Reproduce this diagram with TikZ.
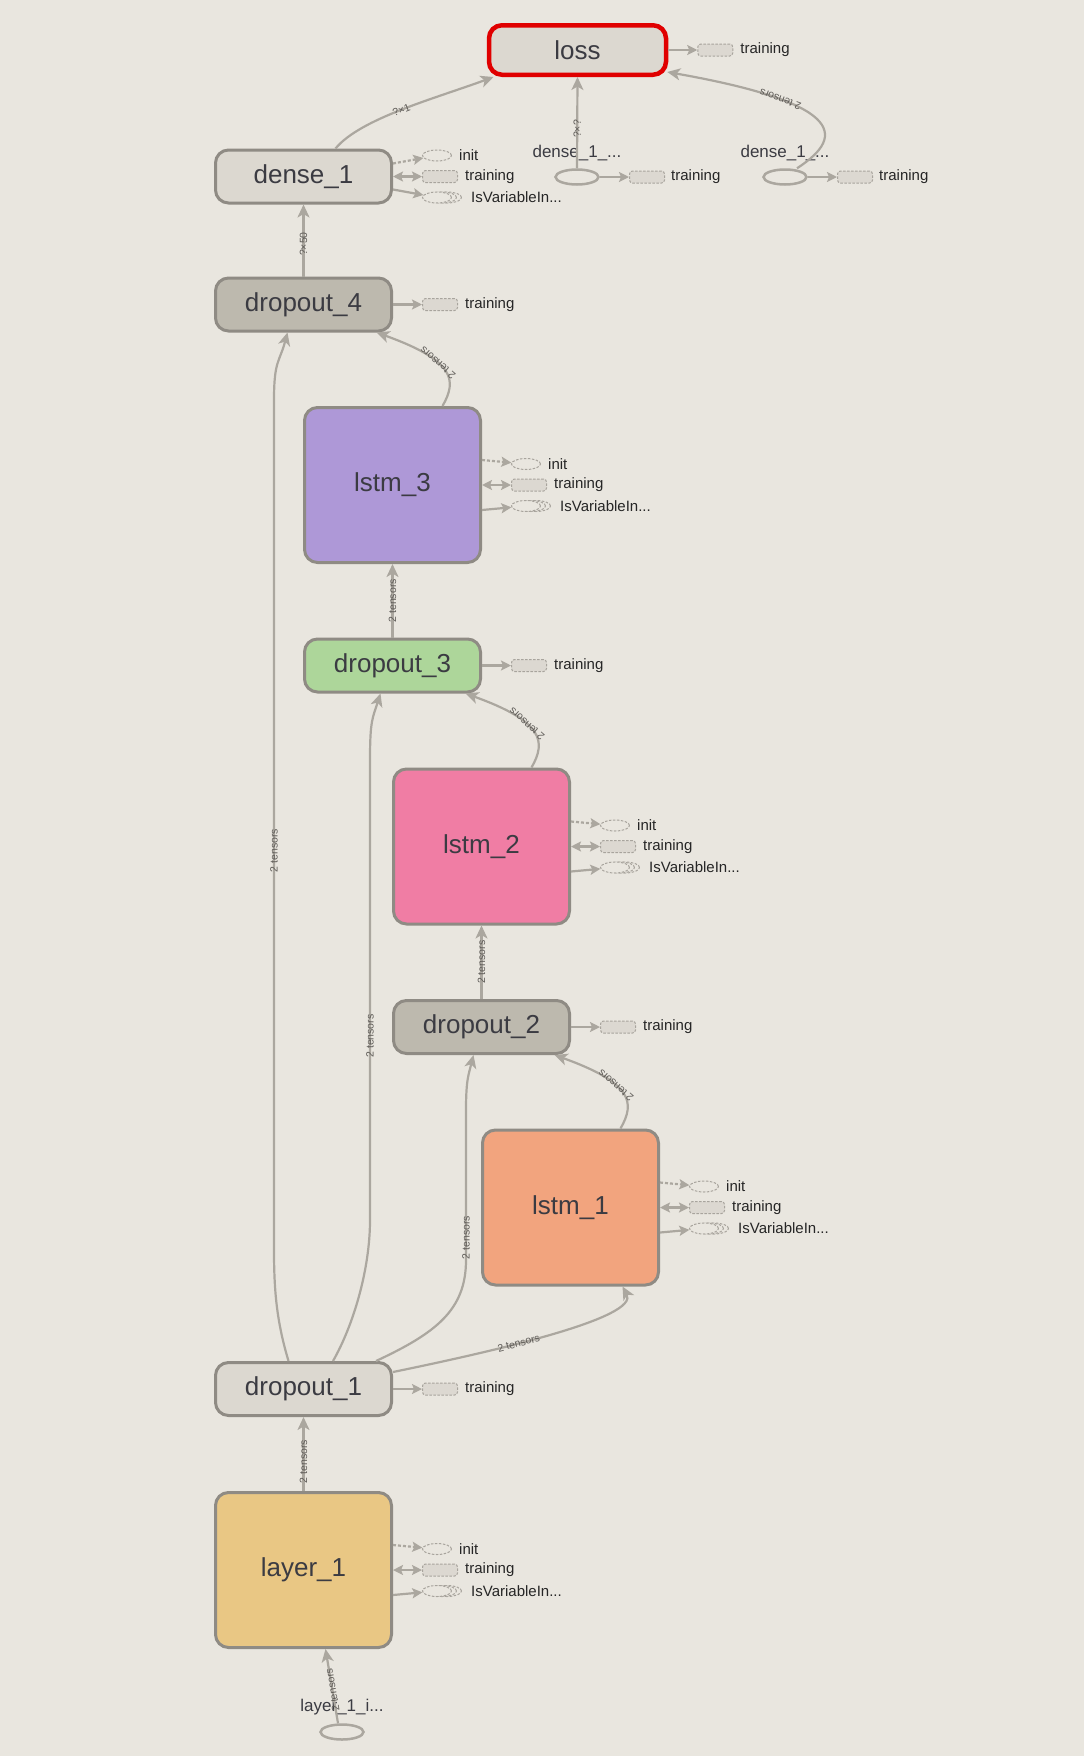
\documentclass[tikz,border=0pt]{standalone}
\usepackage{fontspec}
\setmainfont{Liberation Sans}
\usetikzlibrary{arrows.meta,shapes.geometric}

\definecolor{bgc}{HTML}{E9E6DF}
\definecolor{opc}{HTML}{DCD8D0}
\definecolor{dropc}{HTML}{BDB9AE}
\definecolor{bordc}{HTML}{8F8B84}
\definecolor{edgec}{HTML}{ABA79F}
\definecolor{dashc}{HTML}{A8A49D}
\definecolor{auxc}{HTML}{DCD8D1}
\definecolor{txtc}{HTML}{3B3B42}
\definecolor{labc}{HTML}{5E5B57}
\definecolor{lossred}{HTML}{E00000}
\definecolor{lstmA}{HTML}{F2A47E}
\definecolor{lstmB}{HTML}{F07DA4}
\definecolor{lstmC}{HTML}{AE98D7}
\definecolor{dropC}{HTML}{ADD69A}
\definecolor{layc}{HTML}{E9C784}

\begin{document}
\begin{tikzpicture}[x=1pt,y=-1pt,
  op/.style={draw=bordc, line width=3pt, rounded corners=13pt, minimum width=176pt, minimum height=53pt,
    font=\fontsize{26}{30}\selectfont, text=txtc, inner sep=0pt},
  bigop/.style={op, minimum height=155pt},
  inp/.style={ellipse, draw=edgec, line width=2.5pt, minimum width=43pt, minimum height=15pt, inner sep=0pt},
  inplab/.style={font=\fontsize{17}{18}\selectfont, text=txtc, inner sep=0pt},
  flow/.style={draw=edgec, line width=2.2pt, -{Stealth[length=13pt,width=12pt,inset=3.5pt]}},
  flowlab/.style={font=\fontsize{10.5}{11}\selectfont, text=labc, sloped, allow upside down, inner sep=1pt},
  auxbox/.style={draw=dashc, dash pattern=on 2.5pt off 1.5pt, fill=auxc, rounded corners=3pt, line width=1pt,
    minimum width=35pt, minimum height=12pt, inner sep=0pt},
  auxell/.style={ellipse, draw=dashc, dash pattern=on 2.5pt off 1.5pt, line width=1pt, minimum width=29pt,
    minimum height=11pt, inner sep=0pt},
  auxlab/.style={font=\fontsize{15}{16}\selectfont, text=black!85, anchor=west, inner sep=1pt},
  auxarr/.style={draw=edgec, line width=2.2pt, -{Stealth[length=10pt,width=10pt,inset=2pt]}},
  auxboth/.style={auxarr, {Stealth[length=10pt,width=10pt,inset=2pt]}-{Stealth[length=10pt,width=10pt,inset=2pt]}}
]
\fill[bgc] (0,0) rectangle (1084,1756);
\useasboundingbox (0,0) rectangle (1084,1756);

% main nodes
\node[op, fill=opc, draw=lossred, line width=4.5pt, minimum width=177pt, minimum height=49.5pt] (loss) at (577.5,50) {loss};
\node[op, fill=opc] (dense1) at (303.5,176.5) {dense\_1};
\node[op, fill=dropc] (dropout4) at (303.5,304.5) {dropout\_4};
\node[bigop, fill=lstmC] (lstm3) at (392.5,485) {lstm\_3};
\node[op, fill=dropC] (dropout3) at (392.5,665.5) {dropout\_3};
\node[bigop, fill=lstmB] (lstm2) at (481.5,846.5) {lstm\_2};
\node[op, fill=dropc] (dropout2) at (481.5,1027) {dropout\_2};
\node[bigop, fill=lstmA] (lstm1) at (570.5,1207.5) {lstm\_1};
\node[op, fill=opc] (dropout1) at (303.5,1389) {dropout\_1};
\node[bigop, fill=layc] (layer1) at (303.5,1570) {layer\_1};

% inputs
\node[inp] (d1a) at (577,177) {};
\node[inplab] (d1alab) at (577,153) {dense\_1\_...};
\node[inp] (d1b) at (785,177) {};
\node[inplab] (d1blab) at (785,153) {dense\_1\_...};
\node[inp] (li) at (342,1732) {};
\node[inplab] (lilab) at (342,1707) {layer\_1\_i...};

% training / init / IsVariableIn... side nodes
\foreach \b in {loss,dropout4,dropout3,dropout2,dropout1}{
  \node[auxbox, anchor=west] (\b-t) at ([xshift=29pt]\b.east) {};
  \node[auxlab] (\b-tl) at ([xshift=71pt]\b.east) {training};
  \draw[auxarr] (\b.east) -- (\b-t);
}
\foreach \b/\s in {dense1/13,lstm3/25,lstm2/25,lstm1/25,layer1/25}{
  \node[auxell, anchor=west] (\b-i) at ([shift={(29,-21)}]\b.east) {};
  \node[auxlab] (\b-il) at ([shift={(65,-21)}]\b.east) {init};
  \node[auxbox, anchor=west] (\b-t) at ([xshift=29pt]\b.east) {};
  \node[auxlab] (\b-tl) at ([xshift=71pt]\b.east) {training};
  \node[auxell, anchor=west, fill=bgc] (\b-v3) at ([shift={(39,21)}]\b.east) {};
  \node[auxell, anchor=west, fill=bgc] (\b-v2) at ([shift={(34,21)}]\b.east) {};
  \node[auxell, anchor=west, fill=bgc] (\b-v) at ([shift={(29,21)}]\b.east) {};
  \node[auxlab] (\b-vl) at ([shift={(77,21)}]\b.east) {IsVariableIn...};
  \draw[auxarr, dash pattern=on 3pt off 2pt] ([yshift=\s pt]\b.east) -- (\b-i);
  \draw[auxboth] (\b.east) -- (\b-t);
  \draw[auxarr] ([yshift=-\s pt]\b.east) -- (\b-v);
}
\node[auxbox] (d1a-t) at (647,177) {};
\node[auxlab] (d1a-tl) at (670,177) {training};
\draw[auxarr] (d1a) -- (d1a-t);
\node[auxbox] (d1b-t) at (855,177) {};
\node[auxlab] (d1b-tl) at (878,177) {training};
\draw[auxarr] (d1b) -- (d1b-t);

% edges into loss
\draw[flow] ([xshift=32pt]dense1.north) .. controls +(25,-30) and +(-60,22) .. ([xshift=-84pt]loss.south)
  node[flowlab, pos=0.5] {?×1};
\draw[flow] (d1a.north) -- node[flowlab, pos=0.43] {?×?} (loss.south);
\draw[flow] ([xshift=12pt]d1b.north) .. controls +(53,-34) and +(170,30) .. ([shift={(-1,-5)}]loss.south east)
  node[flowlab, pos=0.7] {2 tensors};

% the stack
\draw[flow] (dropout4) -- node[flowlab, pos=0.45] {?×50} (dense1);
\draw[flow] ([xshift=50pt]lstm3.north) .. controls +(15,-26) and +(78,28) .. ([xshift=73pt]dropout4.south)
  node[flowlab, pos=0.6] {2 tensors};
\draw[flow] (dropout3) -- node[flowlab] {2 tensors} (lstm3);
\draw[flow] ([xshift=50pt]lstm2.north) .. controls +(15,-26) and +(78,28) .. ([xshift=73pt]dropout3.south)
  node[flowlab, pos=0.6] {2 tensors};
\draw[flow] (dropout2) -- node[flowlab] {2 tensors} (lstm2);
\draw[flow] ([xshift=50pt]lstm1.north) .. controls +(15,-26) and +(78,28) .. ([xshift=73pt]dropout2.south)
  node[flowlab, pos=0.6] {2 tensors};

% skips out of dropout_1
\draw[flow] ([xshift=-15pt]dropout1.north) .. controls +(-12,-40) and +(0,40) .. (274,1250)
  -- node[flowlab, pos=0.47] {2 tensors} (274,400) .. controls +(0,-40) and +(-8,30) .. ([xshift=-16pt]dropout4.south);
\draw[flow] ([xshift=29.5pt]dropout1.north) .. controls +(20,-35) and +(0,50) .. (370,1220)
  -- node[flowlab, pos=0.4] {2 tensors} (370,760) .. controls +(0,-40) and +(-8,25) .. ([xshift=-12pt]dropout3.south);
\draw[flow] ([xshift=72.5pt]dropout1.north) .. controls +(60,-28) and +(0,50) .. (466,1260)
  -- node[flowlab, pos=0.15] {2 tensors} (466,1110) .. controls +(0,-30) and +(-5,20) .. ([xshift=-8pt]dropout2.south);
\draw[flow] ([yshift=17pt]dropout1.east) .. controls +(107,-22) and +(17,31) .. ([xshift=52pt]lstm1.south)
  node[flowlab, pos=0.38] {2 tensors};

\draw[flow] (layer1) -- node[flowlab, pos=0.4] {2 tensors} (dropout1);
\draw[flow] ([xshift=-4pt]li.north) -- node[flowlab, pos=0.45] {2 tensors} ([xshift=22pt]layer1.south);
\end{tikzpicture}
\end{document}
